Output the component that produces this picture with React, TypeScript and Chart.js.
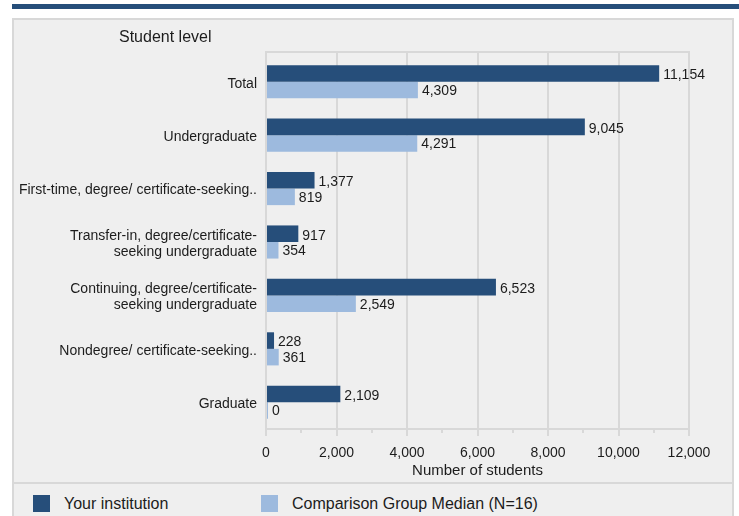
import React, { useEffect, useRef } from 'react';
import { Chart, registerables } from 'chart.js';

Chart.register(...registerables);

// ---- data ----
const categories: (string | string[])[] = [
  'Total',
  'Undergraduate',
  'First-time, degree/ certificate-seeking..',
  ['Transfer-in, degree/certificate-', 'seeking undergraduate'],
  ['Continuing, degree/certificate-', 'seeking undergraduate'],
  'Nondegree/ certificate-seeking..',
  'Graduate',
];
const yourInstitution = [11154, 9045, 1377, 917, 6523, 228, 2109];
const comparisonMedian = [4309, 4291, 819, 354, 2549, 361, 0];
const seriesNames = ['Your institution', 'Comparison Group Median (N=16)'];
const xMin = 0;
const xMax = 12000;
const xStep = 2000;
const yTitle = 'Student level';
const xTitle = 'Number of students';

// ---- styles ----
const DARK = '#264e7a';
const LIGHT = '#9dbade';
const GRID = '#d8d8d8';
const PANEL = '#efefef';
const TEXT = '#1c1c1c';
const FONT = '"Liberation Sans", Arial, Helvetica, sans-serif';

const fmt = (v: number) => v.toLocaleString('en-US');

const framePlugin = {
  id: 'frameAndLabels',
  beforeDatasetsDraw(chart: any) {
    const { ctx, chartArea } = chart;
    const { left, right, top, bottom } = chartArea;
    const xs = chart.scales.x;
    ctx.save();
    ctx.strokeStyle = GRID;
    ctx.lineWidth = 2;
    ctx.beginPath();
    const t = top - 3;
    ctx.moveTo(left - 1, t);
    ctx.lineTo(right + 1, t);
    xs.ticks.forEach((tk: any) => {
      const px = Math.round(xs.getPixelForValue(tk.value));
      ctx.moveTo(px, t);
      ctx.lineTo(px, top + 1);
    });
    for (let v = xMin + xStep / 2; v < xMax; v += xStep) {
      const px = Math.round(xs.getPixelForValue(v));
      ctx.moveTo(px, bottom);
      ctx.lineTo(px, bottom + 4);
    }
    ctx.stroke();
    ctx.restore();
  },
  afterDatasetsDraw(chart: any) {
    const { ctx } = chart;
    ctx.save();
    ctx.font = `14px ${FONT}`;
    ctx.fillStyle = TEXT;
    ctx.textAlign = 'left';
    ctx.textBaseline = 'middle';
    chart.data.datasets.forEach((ds: any, i: number) => {
      const meta = chart.getDatasetMeta(i);
      meta.data.forEach((el: any, j: number) => {
        ctx.fillText(fmt(ds.data[j]), el.x + 4, el.y + (i === 0 ? 2 : 1));
      });
    });
    ctx.restore();
  },
};

function BarChart() {
  const ref = useRef<HTMLCanvasElement | null>(null);
  useEffect(() => {
    if (!ref.current) return;
    const chart = new Chart(ref.current, {
      type: 'bar',
      data: {
        labels: categories as any,
        datasets: [
          {
            label: seriesNames[0],
            data: yourInstitution,
            backgroundColor: DARK,
            borderWidth: 0,
            categoryPercentage: 0.62,
            barPercentage: 1,
            minBarLength: 2,
          },
          {
            label: seriesNames[1],
            data: comparisonMedian,
            backgroundColor: LIGHT,
            borderWidth: 0,
            categoryPercentage: 0.62,
            barPercentage: 1,
            minBarLength: 2,
          },
        ],
      },
      options: {
        indexAxis: 'y',
        responsive: false,
        maintainAspectRatio: false,
        animation: false,
        devicePixelRatio: 1,
        layout: { padding: { top: 55, right: 50, left: 0, bottom: 0 } },
        plugins: {
          legend: { display: false },
          tooltip: { enabled: false },
        },
        scales: {
          x: {
            type: 'linear',
            min: xMin,
            max: xMax,
            afterFit: (s: any) => {
              s.height = 54;
            },
            ticks: {
              stepSize: xStep,
              color: TEXT,
              font: { family: FONT, size: 14 },
              padding: 9,
              maxRotation: 0,
              callback: (v: any) => fmt(Number(v)),
            },
            grid: {
              color: GRID,
              lineWidth: 2,
              tickLength: 7,
              tickColor: GRID,
              drawTicks: true,
            },
            border: { display: true, color: GRID, width: 2 },
            title: {
              display: true,
              text: xTitle,
              color: TEXT,
              font: { family: FONT, size: 15 },
              padding: { top: 0, bottom: 3 },
            },
          },
          y: {
            type: 'category',
            afterFit: (s: any) => {
              s.width = 266;
            },
            ticks: {
              color: TEXT,
              font: { family: FONT, size: 14, lineHeight: 1.15 },
              padding: 9,
              labelOffset: 2,
              autoSkip: false,
            },
            grid: { display: false, drawTicks: false },
            border: { display: true, color: GRID, width: 2 },
          },
        },
      },
      plugins: [framePlugin],
    } as any);
    return () => chart.destroy();
  }, []);
  return (
    <canvas
      ref={ref}
      width={739}
      height={483}
      style={{ position: 'absolute', left: 0, top: 0, width: 739, height: 483 }}
    />
  );
}

export default function App() {
  return (
    <div
      style={{
        position: 'absolute',
        left: 0,
        top: 0,
        width: 739,
        height: 516,
        overflow: 'hidden',
        background: '#ffffff',
        fontFamily: FONT,
        color: TEXT,
      }}
    >
      <div style={{ position: 'absolute', left: 12, top: 4, width: 727, height: 5, background: DARK }} />
      <div
        style={{
          position: 'absolute',
          left: 12,
          top: 18,
          width: 718,
          height: 520,
          background: PANEL,
          border: `2px solid ${GRID}`,
        }}
      />
      <div style={{ position: 'absolute', left: 12, top: 482, width: 722, height: 2, background: GRID }} />
      <BarChart />
      <div
        style={{
          position: 'absolute',
          left: 119,
          top: 27,
          fontSize: 16,
          lineHeight: '20px',
          whiteSpace: 'nowrap',
        }}
      >
        {yTitle}
      </div>
      <div style={{ position: 'absolute', left: 33, top: 495, width: 17, height: 17, background: DARK }} />
      <div style={{ position: 'absolute', left: 64, top: 494, fontSize: 16, lineHeight: '20px', whiteSpace: 'nowrap' }}>
        {seriesNames[0]}
      </div>
      <div style={{ position: 'absolute', left: 261, top: 495, width: 17, height: 17, background: LIGHT }} />
      <div style={{ position: 'absolute', left: 292, top: 494, fontSize: 16, lineHeight: '20px', whiteSpace: 'nowrap' }}>
        {seriesNames[1]}
      </div>
    </div>
  );
}
